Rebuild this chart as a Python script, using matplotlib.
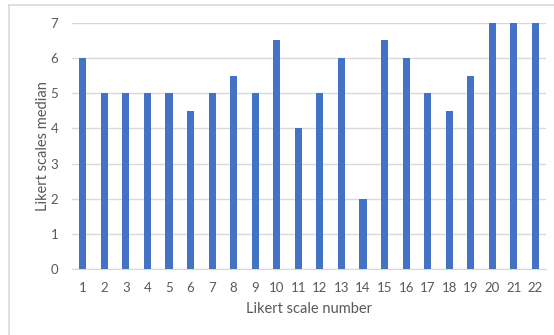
import matplotlib.pyplot as plt
from matplotlib.lines import Line2D

scale_numbers = [str(i) for i in range(1, 23)]
medians = [6, 5, 5, 5, 5, 4.5, 5, 5.5, 5, 6.5, 4, 5, 6, 2, 6.5, 6, 5, 4.5, 5.5, 7, 7, 7]

plt.rcParams['font.family'] = ['Lato', 'DejaVu Sans']
text_color = '#595959'

fig = plt.figure(figsize=(5.54, 3.35), dpi=100)
ax = fig.add_axes([0.13, 0.196, 0.856, 0.736])

ax.bar(range(len(medians)), medians, width=0.33, color='#4472C4', zorder=3)

ax.set_xlim(-0.5, len(medians) - 0.5)
ax.set_ylim(0, 7)
ax.set_yticks(range(0, 8))
ax.set_xticks(range(len(medians)))
ax.set_xticklabels(scale_numbers)
ax.yaxis.grid(True, color='#D9D9D9', linewidth=1, zorder=0)
ax.tick_params(length=0, labelsize=9.5, colors=text_color, pad=9)
ax.tick_params(axis='y', pad=10)
for side in ['top', 'right', 'left']:
    ax.spines[side].set_visible(False)
ax.spines['bottom'].set_color('#D9D9D9')

ax.set_xlabel('Likert scale number', fontsize=10.5, color=text_color, labelpad=6)
ax.set_ylabel('Likert scales median', fontsize=10.5, color=text_color, labelpad=0)

# chart area border
fig.add_artist(Line2D([9 / 554, 9 / 554], [0, 330 / 335], color='#D9D9D9', lw=1.2))
fig.add_artist(Line2D([9 / 554, 1], [330 / 335, 330 / 335], color='#D9D9D9', lw=1.2))

fig.savefig('out.png', dpi=100)
